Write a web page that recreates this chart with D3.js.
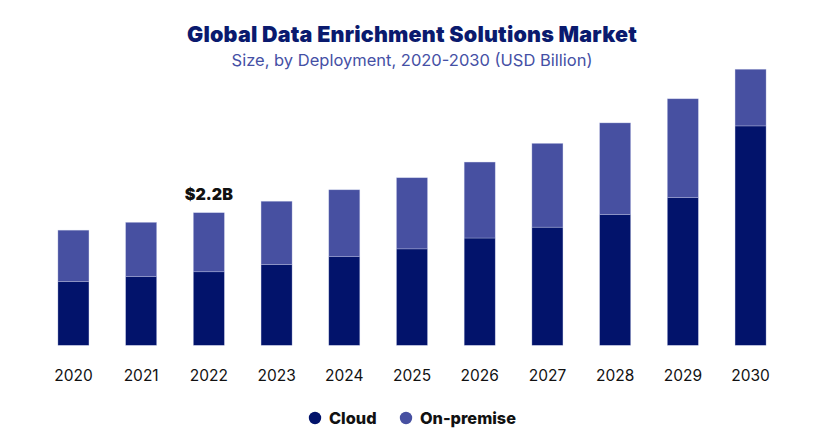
<!DOCTYPE html>
<html>
<head>
<meta charset="utf-8">
<script src="https://cdn.jsdelivr.net/npm/d3@7"></script>
<style>
  html, body { margin: 0; padding: 0; background: #ffffff; }
  svg { display: block; }
</style>
</head>
<body>
<svg id="chart" width="825" height="446"></svg>
<script>
// ---- Data (USD Billion) ----
const years = ["2020","2021","2022","2023","2024","2025","2026","2027","2028","2029","2030"];
const cloud = [1.06, 1.14, 1.22, 1.34, 1.47, 1.60, 1.78, 1.96, 2.17, 2.45, 3.64];
const onPremise = [0.85, 0.90, 0.98, 1.05, 1.11, 1.18, 1.26, 1.39, 1.52, 1.64, 0.94];
const seriesNames = ["Cloud", "On-premise"];
const seriesColors = ["#02136B", "#4750A1"];
const annotationYear = "2022";
const annotationText = "$2.2B";
const titleText = "Global Data Enrichment Solutions Market";
const subtitleText = "Size, by Deployment, 2020-2030 (USD Billion)";

// ---- Layout ----
const W = 825, H = 446;
const margin = { left: 41, right: 42, top: 60, bottom: 100.7 };
const svg = d3.select("#chart");

const table = years.map((y, i) => ({ year: y, Cloud: cloud[i], "On-premise": onPremise[i] }));
const stacked = d3.stack().keys(seriesNames)(table);

const x = d3.scaleBand()
  .domain(years)
  .range([margin.left, W - margin.right])
  .paddingInner(0.542)
  .paddingOuter(0.25);

const y = d3.scaleLinear()
  .domain([0, 2.2])
  .range([H - margin.bottom, 212.7]);

const color = d3.scaleOrdinal().domain(seriesNames).range(seriesColors);

// ---- Bars ----
svg.append("g")
  .selectAll("g")
  .data(stacked)
  .join("g")
  .attr("fill", d => color(d.key))
  .selectAll("rect")
  .data(d => d)
  .join("rect")
  .attr("x", d => x(d.data.year))
  .attr("y", d => y(d[1]))
  .attr("width", x.bandwidth())
  .attr("height", d => y(d[0]) - y(d[1]))
  .attr("stroke", "rgba(200,205,235,0.55)")
  .attr("stroke-width", 0.6);

// ---- X axis ----
const xAxis = svg.append("g")
  .attr("transform", `translate(0,${H - margin.bottom})`)
  .call(d3.axisBottom(x).tickSize(0).tickPadding(25));
xAxis.select(".domain").remove();
xAxis.selectAll("text")
  .attr("font-family", "Inter, 'Open Sans', sans-serif")
  .attr("font-size", 15.5)
  .attr("fill", "#111111");

// ---- Annotation ----
const ai = years.indexOf(annotationYear);
svg.append("text")
  .attr("x", x(annotationYear) + x.bandwidth() / 2)
  .attr("y", y(cloud[ai] + onPremise[ai]) - 13)
  .attr("text-anchor", "middle")
  .attr("font-family", "Inter, 'Open Sans', sans-serif")
  .attr("font-weight", 900)
  .attr("font-size", 16)
  .attr("fill", "#111111")
  .text(annotationText);

// ---- Title ----
svg.append("text")
  .attr("x", 412)
  .attr("y", 42)
  .attr("text-anchor", "middle")
  .attr("font-family", "Inter, 'Open Sans', sans-serif")
  .attr("font-weight", 900)
  .attr("font-size", 21.5)
  .attr("letter-spacing", 0.2)
  .attr("fill", "#0A1A6E")
  .text(titleText);

svg.append("text")
  .attr("x", 412)
  .attr("y", 66)
  .attr("text-anchor", "middle")
  .attr("font-family", "Inter, 'Open Sans', sans-serif")
  .attr("font-weight", 400)
  .attr("font-size", 16.5)
  .attr("fill", "#4550A5")
  .text(subtitleText);

// ---- Legend ----
const legendItems = [
  { name: seriesNames[0], cx: 315, tx: 329 },
  { name: seriesNames[1], cx: 406, tx: 420 }
];
const lg = svg.append("g");
legendItems.forEach(it => {
  lg.append("circle")
    .attr("cx", it.cx)
    .attr("cy", 418)
    .attr("r", 6.2)
    .attr("fill", color(it.name));
  lg.append("text")
    .attr("x", it.tx)
    .attr("y", 424)
    .attr("font-family", "Inter, 'Open Sans', sans-serif")
    .attr("font-weight", 800)
    .attr("font-size", 16.3)
    .attr("fill", "#111111")
    .text(it.name);
});
</script>
</body>
</html>
